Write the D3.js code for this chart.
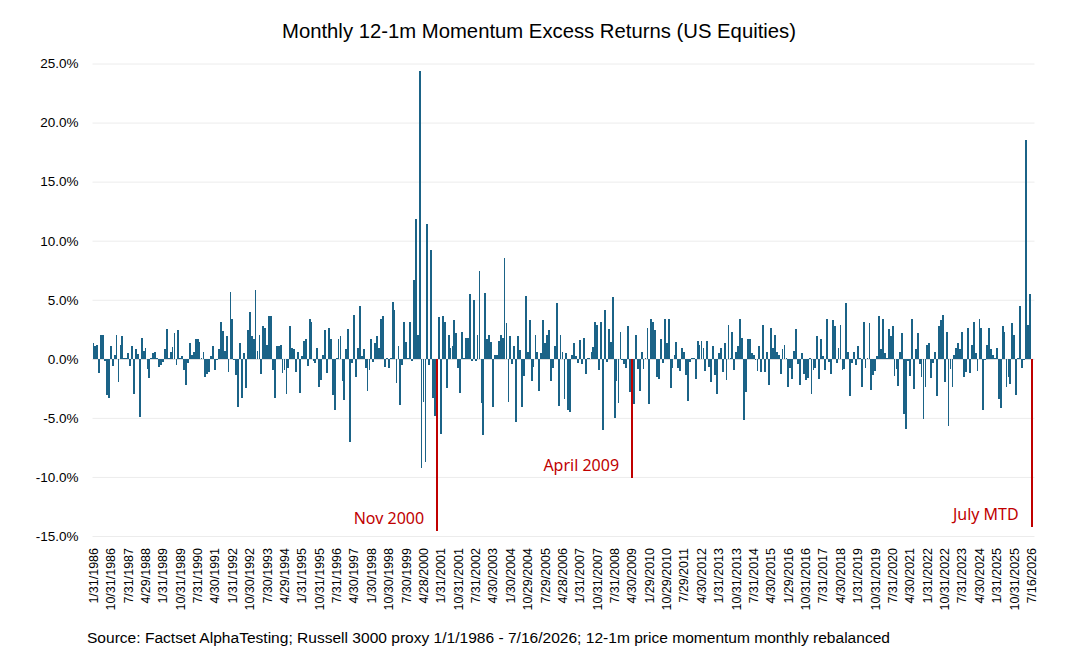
<!DOCTYPE html>
<html>
<head>
<meta charset="utf-8">
<script src="https://cdn.jsdelivr.net/npm/d3@7"></script>
<style>
    body { margin: 0; background: #fff; }
    .chart text { font-family: "Liberation Sans", Arial, sans-serif; fill: #000; }
</style>
</head>
<body>
<div class="chart"></div>
<script>
// monthly 12-1m momentum excess returns, %, Jan 1986 .. Jul 2026 (MTD)
let returns1986to1989 = [
    1.3, 1.1, 1.2, -1.2, 2.0, 2.05, -0.15, -3.1, -3.3, 1.1, -0.6, 0.3,
    2.05, -2.0, 1.2, 1.9, 0.1, 0.05, 0.45, -0.6, 1.1, -3.0, 0.8, 0.4,
    -4.9, 1.8, 0.7, 0.9, -0.85, -1.6, 0.05, 0.45, 0.55, 0.1, -0.7, -0.5,
    -0.25, 0.8, 2.5, 0.05, 0.6, 1.0, 2.15, -0.55, 2.4, 0.1, 0.2, -0.95
]
let returns1990s = [
    -2.2, -0.35, 1.3, 0.35, 0.6, 1.65, 1.65, 1.4, 0.1, 0.6, -1.55, -1.3,
    -1.1, 0.2, 1.1, -0.95, -0.1, 0.8, 3.1, 2.35, 0.7, 1.9, -1.1, 5.65,
    3.4, -0.1, -1.4, -4.1, 1.3, -3.3, 0.45, -2.5, 2.4, 4.0, 1.9, 1.65,
    5.8, 0.65, 2.05, -1.3, 2.75, 2.6, 1.2, 3.65, 3.65, -0.95, -3.3, 1.05,
    1.1, 1.2, -1.2, -0.95, -3.0, -0.8, 2.75, 0.9, 0.8, -1.1, 0.6, -2.9,
    0.2, 1.55, 1.7, -0.6, 3.4, 3.1, -0.2, -0.35, 0.9, -2.4, -1.8, 0.35,
    2.4, -1.2, 2.65, 1.65, -3.1, -4.3, 0.05, 1.65, 1.9, -1.9, -3.5, 0.8,
    2.55, -7.0, -0.35, 3.75, -1.55, 0.95, 4.5, 0.2, 0.8, -0.8, -2.75, -0.95,
    1.7, -0.3, 1.3, 1.9, 0.9, 3.4, 3.65, -0.7, 0.05, -0.8, 0.1, 4.8,
    4.1, -2.05, 1.05, -3.9, -0.55, 3.1, 1.4, 0.05, 3.15, -0.2, 6.7, 11.8
]
let returns2000s = [
    2.0, 24.4, -9.25, -3.65, -8.7, 11.45, -0.5, 9.25, -3.3, -4.85, -14.6, 3.5,
    -6.35, 3.65, 3.15, -2.5, 2.0, 0.9, 1.05, 3.25, 2.15, -0.8, -2.9, 2.3,
    0.1, 1.8, 1.8, 5.45, -0.2, 5.0, -0.2, 2.0, 7.45, -3.75, -6.45, 5.6,
    1.65, 2.0, 1.4, -4.1, 0.35, 0.35, 1.55, 2.05, 1.8, 8.5, 3.05, -3.65,
    1.9, -0.45, 1.1, -5.35, 1.95, 0.75, -4.1, -1.45, 5.3, 0.6, 3.25, -1.9,
    -0.7, 2.05, 0.6, -2.75, 0.45, 3.25, 1.35, 2.05, 2.45, -1.9, -0.75, 1.1,
    4.7, -4.0, 2.05, 0.6, -3.4, 0.5, -4.35, -4.5, 0.35, 1.3, 0.25, -0.35,
    1.6, -0.45, 1.8, -1.3, 0.05, 0.1, 0.6, 1.0, 3.15, 2.9, -0.95, 3.15,
    -6.05, 4.1, -0.25, 2.55, 1.45, 5.2, -5.0, -1.9, -3.75, 2.25, -0.1, -0.45,
    -0.8, 2.75, -2.8, -10.1, -3.85, 2.05, -0.9, -2.75, 0.6, -0.9, 0.05, 2.65
]
let returns2010s = [
    -3.85, 3.35, 3.1, 2.4, -1.55, -1.7, 1.7, -0.35, 3.35, 1.3, 3.4, -2.5,
    -0.8, 0.3, 1.45, -0.8, -1.05, 0.95, 0.6, -1.4, -3.6, -0.3, 0.05, 0.1,
    -1.7, 1.55, 1.2, 1.55, 0.9, -1.05, 1.55, -0.7, -2.0, 1.05, -1.4, -3.0,
    0.45, 0.9, -1.1, 1.3, -1.8, 2.9, 0.05, 2.25, -0.95, 0.55, 1.05, 3.4,
    1.8, -5.15, -2.8, 1.65, 1.7, 0.45, 0.35, -0.1, -1.05, 1.1, -1.1, 2.9,
    -1.1, 0.55, -2.25, 2.65, 0.95, 2.0, 0.55, 0.35, -1.3, 0.8, 1.2, 0.05,
    -2.4, -0.8, -1.7, 0.7, 2.5, -0.45, -2.25, 0.45, -1.3, -1.8, -1.65, 0.1,
    -3.0, -0.95, -0.8, 1.9, -1.7, 1.7, 0.2, -0.95, 3.35, -0.3, -1.3, 3.25,
    2.75, -0.35, 0.95, 2.9, -0.95, -0.9, 4.7, 0.6, -3.15, -0.35, 0.6, -0.55,
    1.1, 0.05, -2.4, 3.1, -0.8, 0.1, 3.0, -2.65, -1.4, -1.05, 0.2, 3.6
]
let returns2020s = [
    0.8, 3.4, 0.45, 0.05, 2.55, 1.9, 2.75, -1.45, -0.9, -2.3, 0.6, 2.15,
    -4.7, -5.9, -0.2, -1.45, 3.4, -2.55, 0.8, 2.15, -0.45, -1.55, -5.1, -2.4,
    1.2, 1.3, -1.65, -0.35, 0.6, -3.15, 2.8, 3.25, 3.75, -2.0, 2.3, -5.7,
    -0.9, -2.4, 0.3, 0.95, 1.3, 0.8, 2.25, -1.55, -1.15, 2.65, -1.2, 1.2,
    3.1, 0.45, -1.05, 3.35, 2.65, -4.35, -0.1, 1.2, 2.65, 0.85, 0.35, 0.1,
    0.95, -3.4, -4.2, 2.75, 2.3, -2.4, -1.55, -2.15, 3.0, 2.0, -3.1, 0.05,
    4.5, -0.8, -0.1, 18.5, 2.9, 5.45, -14.2
]
let highlightMonths = ["2000-11", "2009-04", "2026-07"]
let highlightLabels = ["Nov 2000", "April 2009", "July MTD"]
let yTicks = [-15, -10, -5, 0, 5, 10, 15, 20, 25]
let xTickLabels = [
    "1/31/1986", "10/31/1986", "7/31/1987", "4/29/1988", "1/31/1989", "10/31/1989", "7/31/1990",
    "4/30/1991", "1/31/1992", "10/30/1992", "7/30/1993", "4/29/1994", "1/31/1995", "10/31/1995",
    "7/31/1996", "4/30/1997", "1/30/1998", "10/30/1998", "7/30/1999", "4/28/2000", "1/31/2001",
    "10/31/2001", "7/31/2002", "4/30/2003", "1/30/2004", "10/29/2004", "7/29/2005", "4/28/2006",
    "1/31/2007", "10/31/2007", "7/31/2008", "4/30/2009", "1/29/2010", "10/29/2010", "7/29/2011",
    "4/30/2012", "1/31/2013", "10/31/2013", "7/31/2014", "4/30/2015", "1/29/2016", "10/31/2016",
    "7/31/2017", "4/30/2018", "1/31/2019", "10/31/2019", "7/31/2020", "4/30/2021", "1/31/2022",
    "10/31/2022", "7/31/2023", "4/30/2024", "1/31/2025", "10/31/2025", "7/16/2026"
]
let tickEvery = 9

let values = [].concat(returns1986to1989, returns1990s, returns2000s, returns2010s, returns2020s)
// month keys 1986-01 .. 2026-07
let data = values.map((v, i) => {
    let y = 1986 + Math.floor(i / 12), m = i % 12 + 1
    return { key: `${y}-${m < 10 ? "0" + m : m}`, value: v }
})

let width = 1075, height = 666
let plotLeft = 92.5, plotRight = 1032.5, plotTop = 63.5, plotBottom = 536
let barColor = "#1b6387", red = "#c00000"

let svg = d3.select(".chart")
    .append("svg")
    .attr("width", width)
    .attr("height", height)

let xScale = d3.scaleBand()
    .domain(data.map(d => d.key))
    .range([plotLeft, plotRight])
    .paddingInner(0.06)
let yScale = d3.scaleLinear()
    .domain([yTicks[0], yTicks[yTicks.length - 1]])
    .range([plotBottom, plotTop])

//网格线
svg.append("g")
    .attr("transform", `translate(${plotLeft},0)`)
    .call(d3.axisLeft(yScale).tickValues(yTicks).tickSize(-(plotRight - plotLeft + 2)).tickFormat(""))
    .call(g => g.select(".domain").remove())
    .call(g => g.selectAll(".tick line").attr("stroke", d => d === 0 ? "#d9d9d9" : "#ececec").attr("stroke-width", 1))

//y轴
svg.append("g")
    .attr("transform", `translate(${plotLeft},0)`)
    .call(d3.axisLeft(yScale).tickValues(yTicks).tickSize(0).tickPadding(14).tickFormat(d => d.toFixed(1) + "%"))
    .call(g => g.select(".domain").remove())
    .call(g => g.selectAll("text").attr("font-size", 13.5).attr("font-family", "Liberation Sans, Arial, sans-serif"))

//x轴
let tickKeys = xTickLabels.map((t, i) => data[i * tickEvery].key)
svg.append("g")
    .attr("transform", `translate(0,${plotBottom})`)
    .call(d3.axisBottom(xScale).tickValues(tickKeys).tickSize(0).tickFormat((d, i) => xTickLabels[i]))
    .call(g => g.select(".domain").remove())
    .call(g => g.selectAll("text")
        .attr("font-size", 12.5)
        .attr("font-family", "Liberation Sans, Arial, sans-serif")
        .attr("transform", "rotate(-90)")
        .attr("x", -12)
        .attr("y", 0)
        .attr("dy", "0.35em")
        .style("text-anchor", "end"))

//柱子
svg.append("g")
    .attr("shape-rendering", "crispEdges")
    .selectAll("rect")
    .data(data)
    .enter()
    .append("rect")
    .attr("x", d => xScale(d.key))
    .attr("width", xScale.bandwidth())
    .attr("y", d => yScale(Math.max(0, d.value)))
    .attr("height", d => Math.abs(yScale(d.value) - yScale(0)))
    .attr("fill", d => highlightMonths.includes(d.key) ? red : barColor)

//标注
svg.append("g")
    .selectAll("text")
    .data(highlightMonths)
    .enter()
    .append("text")
    .attr("x", d => xScale(d) - 12)
    .attr("y", d => yScale(data.find(e => e.key === d).value) - 7)
    .attr("text-anchor", "end")
    .attr("font-size", 16)
    .style("font-family", "'Noto Sans', 'Open Sans', sans-serif")
    .style("fill", red)
    .text((d, i) => highlightLabels[i])

svg.append("text")
    .attr("x", 539)
    .attr("y", 38)
    .attr("text-anchor", "middle")
    .attr("font-size", 21)
    .attr("textLength", 514)
    .attr("lengthAdjust", "spacingAndGlyphs")
    .style("font-family", "'Liberation Sans Narrow', 'Arial Narrow', 'Liberation Sans', sans-serif")
    .text("Monthly 12-1m Momentum Excess Returns (US Equities)")

svg.append("text")
    .attr("x", 87)
    .attr("y", 643)
    .attr("font-size", 14)
    .attr("textLength", 803)
    .attr("lengthAdjust", "spacingAndGlyphs")
    .text("Source: Factset AlphaTesting; Russell 3000 proxy 1/1/1986 - 7/16/2026; 12-1m price momentum monthly rebalanced")
</script>
</body>
</html>
